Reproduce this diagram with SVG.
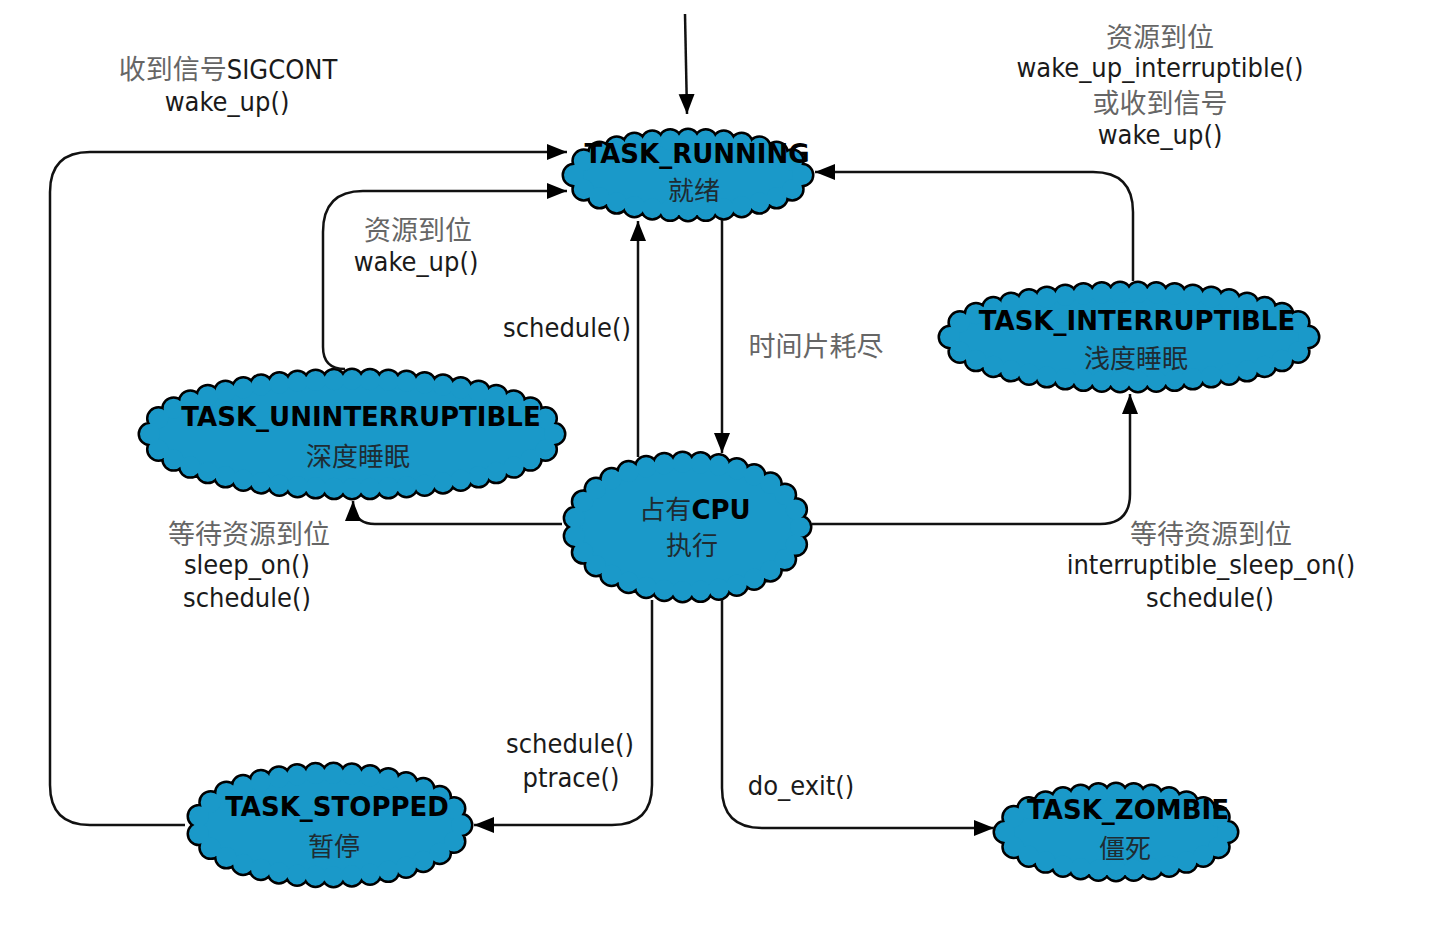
<svg xmlns="http://www.w3.org/2000/svg" width="1454" height="943" viewBox="0 0 1454 943">
<style>
.cb{fill:none;stroke:#000;stroke-width:25;stroke-linecap:round;stroke-dasharray:0 1}
.cf{fill:#1a99c9;stroke:#1a99c9;stroke-width:20;stroke-linecap:round;stroke-dasharray:0 1}
.ln{fill:none;stroke:#111;stroke-width:2.5;marker-end:url(#ah)}
.nt{font-family:"DejaVu Sans","Noto Sans CJK SC",sans-serif;font-weight:bold;font-size:26px;fill:#000;text-anchor:middle}
.nc{font-family:"Noto Sans CJK SC",sans-serif;font-size:26px;fill:#1e2c33;text-anchor:middle}
.lb{font-family:"DejaVu Sans Condensed","DejaVu Sans","Noto Sans CJK SC",sans-serif;font-stretch:condensed;font-size:27px;fill:#1a1a1a;text-anchor:middle}
.cj{font-family:"Noto Sans CJK SC",sans-serif;fill:#666}
</style>
<defs>
<marker id="ah" markerUnits="userSpaceOnUse" markerWidth="22" markerHeight="18" refX="20" refY="8" orient="auto"><path d="M0,0 L20,8 L0,16 z" fill="#000"/></marker>
<path id="e-run" pathLength="28" d="M802,175 A114,35 0 1 1 574,175 A114,35 0 1 1 802,175 Z"/>
<path id="e-unint" pathLength="48" d="M554,434 A202,54 0 1 1 150,434 A202,54 0 1 1 554,434 Z"/>
<path id="e-int" pathLength="42" d="M1308,337 A179,44 0 1 1 950,337 A179,44 0 1 1 1308,337 Z"/>
<path id="e-cpu" pathLength="31" d="M800,527 A113,64 0 1 1 574,527 A113,64 0 1 1 800,527 Z"/>
<path id="e-stop" pathLength="33" d="M461,825 A132,51 0 1 1 197,825 A132,51 0 1 1 461,825 Z"/>
<path id="e-zomb" pathLength="28" d="M1227,832 A111,38 0 1 1 1005,832 A111,38 0 1 1 1227,832 Z"/>
</defs>
<rect width="1454" height="943" fill="#fff"/>

<g id="n-running">
<use href="#e-run" class="cb"/><use href="#e-run" class="cf"/>
<text class="nt" x="697" y="163">TASK_RUNNING</text>
<text class="nc" x="694" y="200">就绪</text>
</g>
<g id="n-uninterruptible">
<use href="#e-unint" class="cb"/><use href="#e-unint" class="cf"/>
<text class="nt" x="361" y="426">TASK_UNINTERRUPTIBLE</text>
<text class="nc" x="358" y="466">深度睡眠</text>
</g>
<g id="n-interruptible">
<use href="#e-int" class="cb"/><use href="#e-int" class="cf"/>
<text class="nt" x="1137" y="330">TASK_INTERRUPTIBLE</text>
<text class="nc" x="1136" y="368">浅度睡眠</text>
</g>
<g id="n-cpu">
<use href="#e-cpu" class="cb"/><use href="#e-cpu" class="cf"/>
<text class="nt" x="695" y="519"><tspan style="font-family:'Noto Sans CJK SC',sans-serif;font-weight:normal;font-size:26px;fill:#1e2c33">占有</tspan>CPU</text>
<text class="nc" x="692" y="555">执行</text>
</g>
<g id="n-stopped">
<use href="#e-stop" class="cb"/><use href="#e-stop" class="cf"/>
<text class="nt" x="337" y="816">TASK_STOPPED</text>
<text class="nc" x="334" y="856">暂停</text>
</g>
<g id="n-zombie">
<use href="#e-zomb" class="cb"/><use href="#e-zomb" class="cf"/>
<text class="nt" x="1128" y="819">TASK_ZOMBIE</text>
<text class="nc" x="1125" y="858">僵死</text>
</g>

<g id="connectors">
<path class="ln" d="M685,14 L687,114"/>
<path class="ln" d="M185,825 H90 Q50,825 50,785 V192 Q50,152 90,152 H567"/>
<path class="ln" d="M345,369 Q323,369 323,347 V232 Q323,191 363,191 H567"/>
<path class="ln" d="M638,457 V221"/>
<path class="ln" d="M722,220 V453"/>
<path class="ln" d="M1133,281 V212 Q1133,172 1093,172 H815"/>
<path class="ln" d="M562,524 H375 Q353,524 353,501"/>
<path class="ln" d="M812,524 H1100 Q1130,524 1130,494 V394"/>
<path class="ln" d="M652,600 V785 Q652,825 612,825 H474"/>
<path class="ln" d="M722,600 V788 Q722,828 762,828 H994"/>
</g>

<g id="labels">
<text class="lb" x="228" y="79"><tspan class="cj">收到信号</tspan>SIGCONT</text>
<text class="lb" x="227" y="111">wake_up()</text>
<text class="lb" x="1160" y="47"><tspan class="cj">资源到位</tspan></text>
<text class="lb" x="1160" y="77">wake_up_interruptible()</text>
<text class="lb" x="1160" y="113"><tspan class="cj">或收到信号</tspan></text>
<text class="lb" x="1160" y="144">wake_up()</text>
<text class="lb" x="418" y="240"><tspan class="cj">资源到位</tspan></text>
<text class="lb" x="416" y="271">wake_up()</text>
<text class="lb" x="567" y="337">schedule()</text>
<text class="lb" x="816" y="356"><tspan class="cj">时间片耗尽</tspan></text>
<text class="lb" x="249" y="544"><tspan class="cj">等待资源到位</tspan></text>
<text class="lb" x="247" y="574">sleep_on()</text>
<text class="lb" x="247" y="607">schedule()</text>
<text class="lb" x="1211" y="544"><tspan class="cj">等待资源到位</tspan></text>
<text class="lb" x="1211" y="574">interruptible_sleep_on()</text>
<text class="lb" x="1210" y="607">schedule()</text>
<text class="lb" x="570" y="753">schedule()</text>
<text class="lb" x="571" y="787">ptrace()</text>
<text class="lb" x="801" y="795">do_exit()</text>
</g>
</svg>
